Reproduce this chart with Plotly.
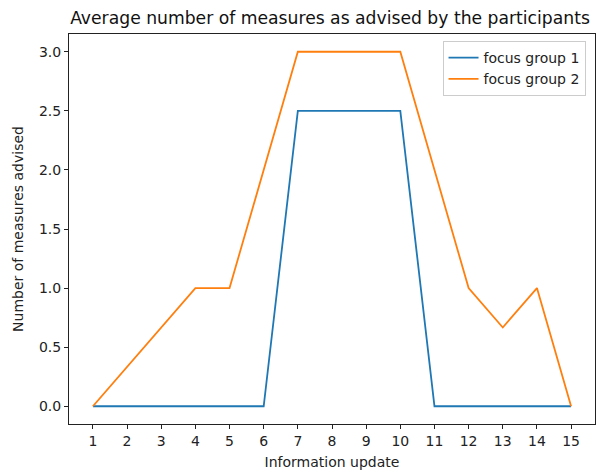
import plotly.graph_objects as go

updates = list(range(1, 16))
group1 = [0, 0, 0, 0, 0, 0, 2.5, 2.5, 2.5, 2.5, 0, 0, 0, 0, 0]
group2 = [0, 1/3, 2/3, 1, 1, 2, 3, 3, 3, 3, 2, 1, 2/3, 1, 0]
series_names = ["focus group 1", "focus group 2"]
colors = ["#1f77b4", "#ff7f0e"]
y_ticks = [0.0, 0.5, 1.0, 1.5, 2.0, 2.5, 3.0]

fig = go.Figure()
for name, vals, c in zip(series_names, [group1, group2], colors):
    fig.add_trace(go.Scatter(x=updates, y=vals, mode="lines", name=name,
                             line=dict(color=c, width=1.8)))

font = "DejaVu Sans"
fig.update_layout(
    width=600, height=462,
    margin=dict(l=61, r=13, t=26, b=46, autoexpand=False),
    paper_bgcolor="white", plot_bgcolor="white",
    font=dict(family=font, size=14, color="#222"),
    title=dict(text="Average number of measures as advised by the participants",
               x=322/600, xanchor="center", y=1 - 10/462, yanchor="middle",
               font=dict(size=17.2, color="#111"), automargin=False),
    showlegend=True,
    legend=dict(x=0.982, y=0.982, xanchor="right", yanchor="top",
                bgcolor="rgba(255,255,255,0.8)", bordercolor="#ccc", borderwidth=1,
                font=dict(size=14), tracegroupgap=0),
    xaxis=dict(range=[0.3, 15.7], tickmode="array", tickvals=updates,
               ticktext=[str(u) for u in updates], automargin=False,
               showgrid=False, zeroline=False, showline=True, mirror=True,
               linecolor="#222", linewidth=1, ticks="outside", ticklen=4,
               tickcolor="#222",
               title=dict(text="Information update", font=dict(size=14), standoff=9)),
    yaxis=dict(range=[-0.15, 3.15], tickmode="array", tickvals=y_ticks,
               ticktext=[f"{v:.1f}" for v in y_ticks], automargin=False,
               showgrid=False, zeroline=False, showline=True, mirror=True,
               linecolor="#222", linewidth=1, ticks="outside", ticklen=4,
               tickcolor="#222",
               title=dict(text="Number of measures advised", font=dict(size=14), standoff=12)),
)

fig.write_html("out.html")
